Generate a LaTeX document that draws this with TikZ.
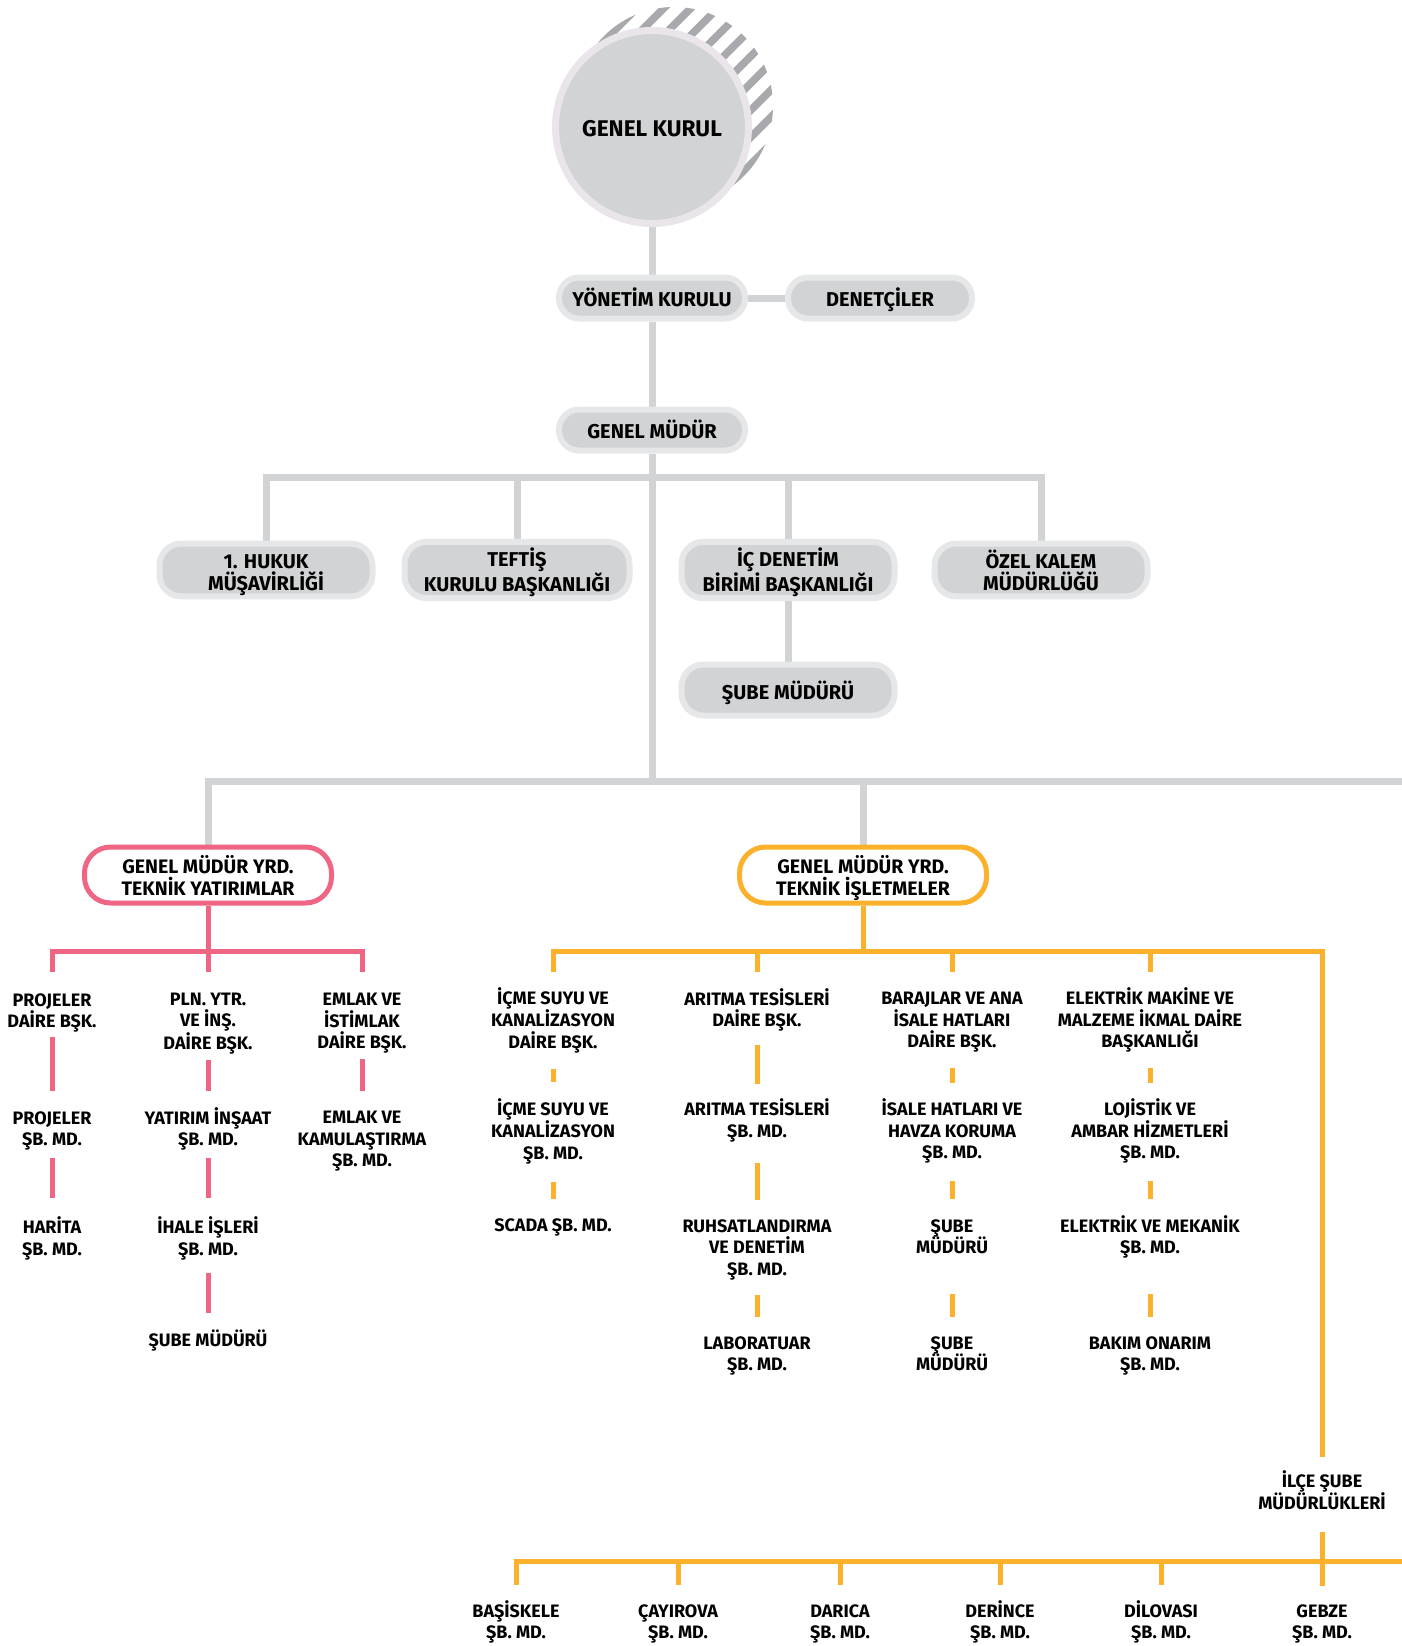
\documentclass[tikz,border=0pt]{standalone}
\usepackage{fontspec}
\setmainfont{Fira Sans}
\usetikzlibrary{backgrounds}
\definecolor{kgrey}{HTML}{D1D3D4}
\definecolor{krim}{HTML}{E6E7E8}
\definecolor{kring}{HTML}{EAE5EA}
\definecolor{kstripe}{HTML}{A7A9AC}
\definecolor{kpink}{HTML}{EF6584}
\definecolor{korange}{HTML}{FBB12B}
% first line height, so that every label sits the same way in its node
\def\toplnh{17pt}
\newcommand\topln{\rule{0pt}{\toplnh}}

\begin{document}
\begin{tikzpicture}[x=1pt,y=-1pt]
\tikzstyle{every node}=[font=\bfseries\fontsize{18}{21.5}\selectfont,align=center,inner sep=0pt,execute at begin node={\def\toplnh{17pt}},execute at end node=\strut]
\tikzstyle{box}=[rectangle,draw=krim,line width=6pt,fill=kgrey,font=\bfseries\fontsize{20}{21.5}\selectfont]
\tikzstyle{pill}=[box,rounded corners=22pt,minimum width=213pt,minimum height=51pt,execute at begin node={\def\toplnh{25pt}}]
\tikzstyle{bigpill}=[box,rounded corners=20pt,minimum width=186pt,minimum height=41pt,execute at begin node={\def\toplnh{23pt}}]
\tikzstyle{yrd}=[rectangle,rounded corners=26pt,line width=5pt,fill=white,minimum width=247pt,minimum height=56pt,font=\bfseries\fontsize{19.5}{21.5}\selectfont,execute at begin node={\def\toplnh{25pt}}]
\tikzstyle{gline}=[kgrey,line width=7pt]
\tikzstyle{pline}=[kpink,line width=5pt]
\tikzstyle{oline}=[korange,line width=5pt]
\useasboundingbox (0,0) rectangle (1402,1646);

% genel kurul
\begin{scope}
\clip (674,106) circle (99pt);
\foreach \k in {-9,...,9}
  \draw[kstripe,line width=7.5pt] ({674+27*\k-140},246) -- ({674+27*\k+140},-34);
\end{scope}
\node[circle,draw=kring,line width=7pt,fill=kgrey,minimum size=193pt,font=\bfseries\fontsize{22.7}{24}\selectfont,execute at begin node={\def\toplnh{27pt}}] (kurul) at (652,127) {\topln GENEL KURUL};

% yonetim
\node[bigpill] (yonetim) at (652,298) {\topln YÖNETİM KURULU};
\node[bigpill,minimum width=184pt] (denet) at (880,298) {\topln DENETÇİLER};
\node[bigpill] (gm) at (652,430) {\topln GENEL MÜDÜR};

\node[pill] (hukuk) at (266,570) {\topln 1. HUKUK\\MÜŞAVİRLİĞİ};
\node[pill,minimum width=225pt] (teftis) at (517,570) {\topln TEFTİŞ\\KURULU BAŞKANLIĞI};
\node[pill] (icden) at (788,570) {\topln İÇ DENETİM\\BİRİMİ BAŞKANLIĞI};
\node[pill] (ozel) at (1041,570) {\topln ÖZEL KALEM\\MÜDÜRLÜĞÜ};
\node[pill] (sube) at (788,690) {\topln ŞUBE MÜDÜRÜ};

\coordinate (gbar) at (652,477);
\coordinate (gbar2) at (652,781);
\coordinate (gend) at (1402,781);

% yardimcilar
\node[yrd,draw=kpink] (yrd1) at (208,875) {\topln GENEL MÜDÜR YRD.\\TEKNİK YATIRIMLAR};
\node[yrd,draw=korange] (yrd2) at (863,875) {\topln GENEL MÜDÜR YRD.\\TEKNİK İŞLETMELER};

% teknik yatirimlar
\node (p11) at (52,1011.5) {\topln PROJELER\\DAİRE BŞK.};
\node (p12) at (52,1129.5) {\topln PROJELER\\ŞB. MD.};
\node (p13) at (52,1239) {\topln HARİTA\\ŞB. MD.};
\node (p21) at (208,1022) {\topln PLN. YTR.\\VE İNŞ.\\DAİRE BŞK.};
\node (p22) at (208,1129.5) {\topln YATIRIM İNŞAAT\\ŞB. MD.};
\node (p23) at (208,1239) {\topln İHALE İŞLERİ\\ŞB. MD.};
\node (p24) at (208,1341.5) {\topln ŞUBE MÜDÜRÜ};
\node (p31) at (362,1022) {\topln EMLAK VE\\İSTİMLAK\\DAİRE BŞK.};
\node (p32) at (362,1140) {\topln EMLAK VE\\KAMULAŞTIRMA\\ŞB. MD.};

\coordinate (pbar) at (208,951);
\coordinate (pstub) at (0,972);

% teknik isletmeler
\node (oA1) at (553,1021) {\topln İÇME SUYU VE\\KANALİZASYON\\DAİRE BŞK.};
\node (oA2) at (553,1132) {\topln İÇME SUYU VE\\KANALİZASYON\\ŞB. MD.};
\node (oA3) at (553,1226.5) {\topln SCADA ŞB. MD.};
\node (oB1) at (757,1010.5) {\topln ARITMA TESİSLERİ\\DAİRE BŞK.};
\node (oB2) at (757,1121) {\topln ARITMA TESİSLERİ\\ŞB. MD.};
\node (oB3) at (757,1248.5) {\topln RUHSATLANDIRMA\\VE DENETİM\\ŞB. MD.};
\node (oB4) at (757,1354.5) {\topln LABORATUAR\\ŞB. MD.};
\node (oC1) at (952,1021) {\topln BARAJLAR VE ANA\\İSALE HATLARI\\DAİRE BŞK.};
\node (oC2) at (952,1132) {\topln İSALE HATLARI VE\\HAVZA KORUMA\\ŞB. MD.};
\node (oC3) at (952,1237.5) {\topln ŞUBE\\MÜDÜRÜ};
\node (oC4) at (952,1354.5) {\topln ŞUBE\\MÜDÜRÜ};
\node (oD1) at (1150,1021) {\topln ELEKTRİK MAKİNE VE\\MALZEME İKMAL DAİRE\\BAŞKANLIĞI};
\node (oD2) at (1150,1132) {\topln LOJİSTİK VE\\AMBAR HİZMETLERİ\\ŞB. MD.};
\node (oD3) at (1150,1237.5) {\topln ELEKTRİK VE MEKANİK\\ŞB. MD.};
\node (oD4) at (1150,1354.5) {\topln BAKIM ONARIM\\ŞB. MD.};
\node (ilce) at (1322,1493) {\topln İLÇE ŞUBE\\MÜDÜRLÜKLERİ};

\coordinate (obar) at (863,951);
\coordinate (ostub) at (0,972);

% ilce subeleri
\foreach \nm/\x/\t in {bas/516/BAŞİSKELE,cay/678/ÇAYIROVA,dar/840/DARICA,der/1000/DERİNCE,dil/1161/DİLOVASI,geb/1322/GEBZE}
  \node (\nm) at (\x,1622.5) {\topln\t\\ŞB. MD.};
\coordinate (ibar) at (0,1561);
\coordinate (istub) at (0,1585);
\coordinate (iend) at (1402,1561);

\begin{pgfonlayer}{background}
\draw[gline] (kurul) -- (yonetim);
\draw[gline] (yonetim) -- (denet);
\draw[gline] (yonetim) -- (gm);
\draw[gline] (gm.south) -- (gm.south |- gbar2);
\draw[gline] (hukuk.north) -- (hukuk.north |- gbar) -- (ozel.north |- gbar) -- (ozel.north);
\draw[gline] (teftis.north) -- (teftis.north |- gbar);
\draw[gline] (icden.north) -- (icden.north |- gbar);
\draw[gline] (icden) -- (sube);
\draw[gline] (yrd1.north) -- (yrd1.north |- gbar2) -- (gend);
\draw[gline] (yrd2.north) -- (yrd2.north |- gbar2);
\end{pgfonlayer}

% pembe
\draw[pline] (p11.north |- pstub) -- (p11.north |- pbar) -- (p31.north |- pbar) -- (p31.north |- pstub);
\draw[pline] (yrd1.south) -- (p21.north |- pstub);
\draw[pline,shorten <=3pt,shorten >=16pt] (p11) -- (p12);
\draw[pline,shorten <=6pt,shorten >=18pt] (p12) -- (p13);
\draw[pline,shorten <=4pt,shorten >=16pt] (p21) -- (p22);
\draw[pline,shorten <=6pt,shorten >=18pt] (p22) -- (p23);
\draw[pline,shorten <=11pt,shorten >=17pt] (p23) -- (p24);
\draw[pline,shorten <=4pt,shorten >=16pt] (p31) -- (p32);

% turuncu
\draw[oline] (yrd2.south) -- (yrd2.south |- obar);
\draw[oline,shorten >=13pt] (oA1.north |- ostub) -- (oA1.north |- obar) -- (ilce.north |- obar) -- (ilce.north);
\foreach \n in {oB1,oC1,oD1}
  \draw[oline] (\n.north |- obar) -- (\n.north |- ostub);
\draw[oline,shorten <=14pt,shorten >=16pt] (oA1.south) -- (oA2.north);
\draw[oline,shorten <=16pt,shorten >=16pt] (oA2.south) -- (oA3.north);
\draw[oline,shorten <=12pt,shorten >=14pt] (oB1.south) -- (oB2.north);
\draw[oline,shorten <=19pt,shorten >=15pt] (oB2.south) -- (oB3.north);
\draw[oline,shorten <=13pt,shorten >=15pt] (oB3.south) -- (oB4.north);
\draw[oline,shorten <=14pt,shorten >=16pt] (oC1.south) -- (oC2.north);
\draw[oline,shorten <=16pt,shorten >=16pt] (oC2.south) -- (oC3.north);
\draw[oline,shorten <=34pt,shorten >=15pt] (oC3.south) -- (oC4.north);
\draw[oline,shorten <=14pt,shorten >=16pt] (oD1.south) -- (oD2.north);
\draw[oline,shorten <=16pt,shorten >=16pt] (oD2.south) -- (oD3.north);
\draw[oline,shorten <=34pt,shorten >=15pt] (oD3.south) -- (oD4.north);

% ilce
\draw[oline,shorten <=16pt,shorten >=14pt] (ilce.south) -- (geb.north);
\draw[oline] (bas.north |- istub) -- (bas.north |- ibar) -- (iend);
\foreach \n in {cay,dar,der,dil}
  \draw[oline] (\n.north |- ibar) -- (\n.north |- istub);
\end{tikzpicture}
\end{document}
